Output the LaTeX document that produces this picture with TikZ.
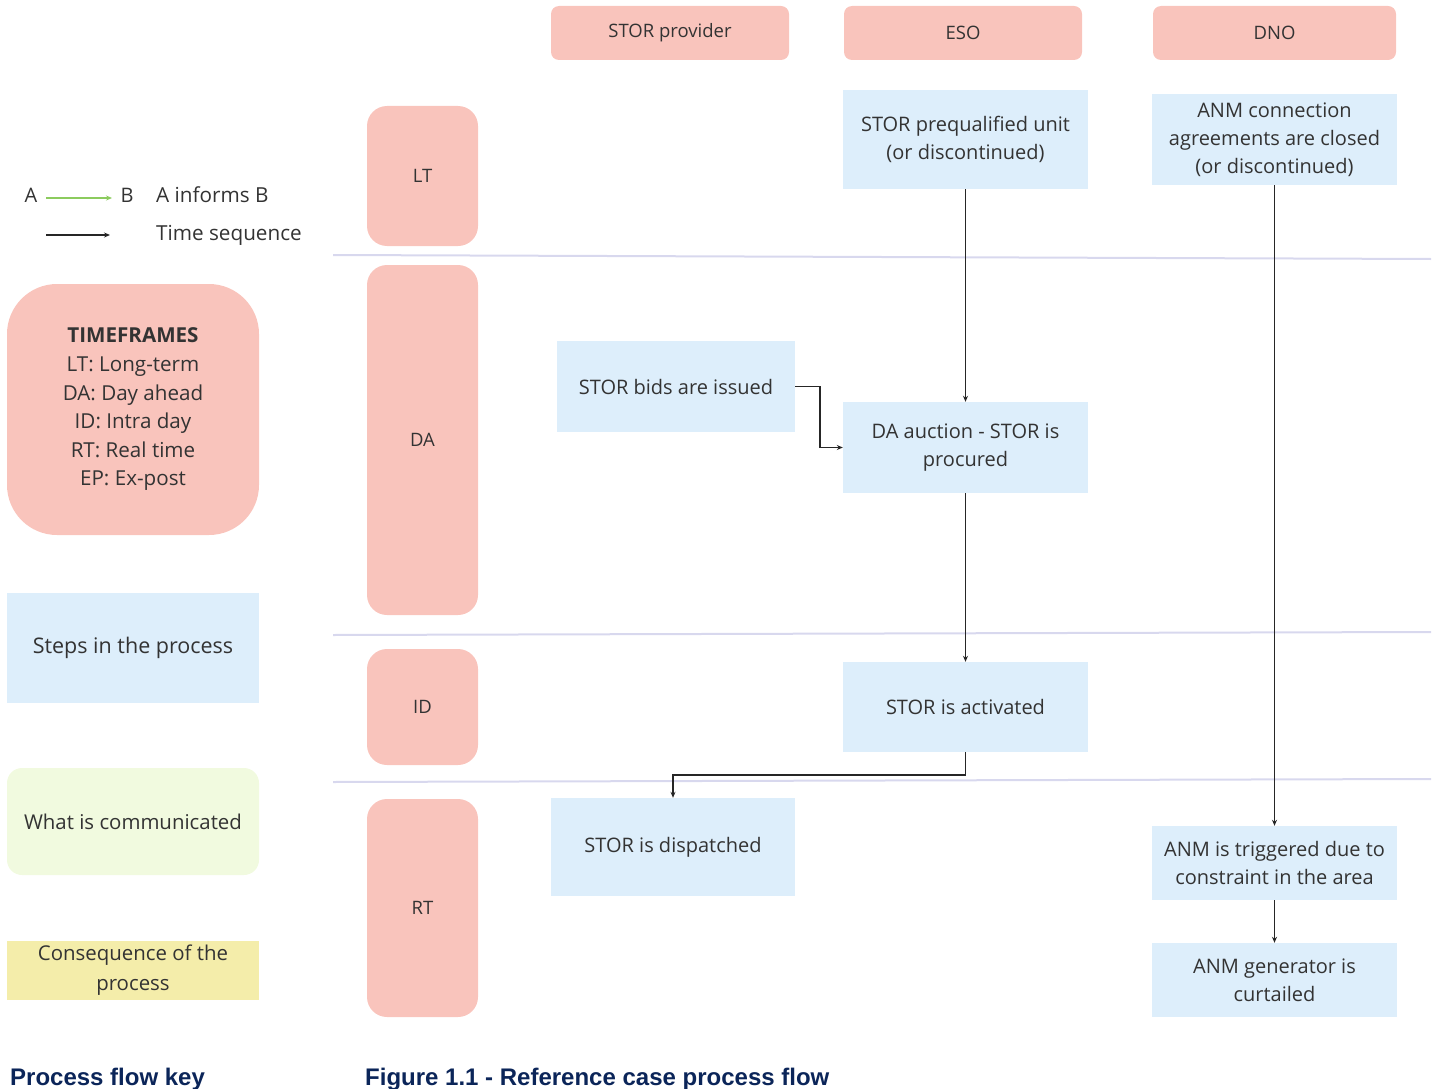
\documentclass[tikz,border=0pt]{standalone}
\usepackage{fontspec}
\setmainfont{Open Sans}
\newfontfamily\titlefont{Liberation Sans}
\usetikzlibrary{arrows.meta}
\definecolor{pinkf}{HTML}{F9C4BC}
\definecolor{bluef}{HTML}{DDEEFB}
\definecolor{greenf}{HTML}{F1FADF}
\definecolor{yellowf}{HTML}{F4EDAA}
\definecolor{sepc}{HTML}{D8D8EE}
\definecolor{infoc}{HTML}{8CCB5E}
\definecolor{navy}{HTML}{0B2559}
\definecolor{txt}{HTML}{333333}
\tikzset{
  every node/.style={text=txt, font=\fontsize{20}{28}\selectfont},
  header/.style={fill=pinkf, rounded corners=8pt, inner sep=0pt, font=\fontsize{18.5}{24}\selectfont},
  frame/.style={fill=pinkf, rounded corners=20pt, inner sep=0pt, font=\fontsize{18.5}{24}\selectfont},
  stepbox/.style={fill=bluef, inner sep=0pt, align=center},
  sep/.style={draw=sepc, line width=2pt},
  flow/.style={draw=black!85, line width=1.7pt, -{Stealth[length=6pt,width=5pt]}},
  inform/.style={draw=infoc, line width=1.8pt, -{Stealth[length=6pt,width=5pt]}},
  ttl/.style={text=navy, font=\titlefont\bfseries\fontsize{24}{28}\selectfont, anchor=base west, inner sep=0pt},
}
\begin{document}
\begin{tikzpicture}[x=1pt,y=-1pt]
\useasboundingbox (0,0) rectangle (1437,1089);
% separators
\draw[sep] (333,255) -- (1431,259);
\draw[sep] (333,635) -- (1431,632);
\draw[sep] (333,782) -- (1431,779);
% headers
\node[header, minimum width=238pt, minimum height=54pt] (hstor) at (670,33) {STOR provider};
\node[header, minimum width=238pt, minimum height=54pt] (heso) at (963,33) {ESO};
\node[header, minimum width=243pt, minimum height=54pt] (hdno) at (1274.5,33) {DNO};
% timeframes
\node[frame, minimum width=111pt, minimum height=140pt] (lt) at (422.5,176) {LT};
\node[frame, minimum width=111pt, minimum height=350pt] (da) at (422.5,440) {DA};
\node[frame, minimum width=111pt, minimum height=116pt] (id) at (422.5,707) {ID};
\node[frame, minimum width=111pt, minimum height=218pt] (rt) at (422.5,908) {RT};
% steps
\node[stepbox, minimum width=245pt, minimum height=99pt] (prequal) at (965.5,139.5) {STOR prequalified unit\\(or discontinued)};
\node[stepbox, minimum width=245pt, minimum height=91pt] (anmconn) at (1274.5,139.5) {ANM connection\\agreements are closed\\(or discontinued)};
\node[stepbox, minimum width=238pt, minimum height=91pt] (bids) at (676,386.5) {STOR bids are issued};
\node[stepbox, minimum width=245pt, minimum height=91pt] (auction) at (965.5,447.5) {DA auction - STOR is\\procured};
\node[stepbox, minimum width=245pt, minimum height=90pt] (activated) at (965.5,707) {STOR is activated};
\node[stepbox, minimum width=244pt, minimum height=98pt] (dispatched) at (673,847) {STOR is dispatched};
\node[stepbox, minimum width=245pt, minimum height=74pt] (triggered) at (1274.5,863) {ANM is triggered due to\\constraint in the area};
\node[stepbox, minimum width=245pt, minimum height=74pt] (curtailed) at (1274.5,980) {ANM generator is\\curtailed};
% flows
\draw[flow] (prequal.south) -- (auction.north);
\draw[flow] (auction.south) -- (activated.north);
\draw[flow] (bids.east) -- ++(25,0) |- (auction.west);
\draw[flow] (activated.south) -- ++(0,23) -| (dispatched.north);
\draw[flow] (anmconn.south) -- (triggered.north);
\draw[flow] (triggered.south) -- (curtailed.north);
% legend
\node (la) at (31,195) {A};
\node (lb) at (127,195) {B};
\node[anchor=west, inner sep=0pt, font=\fontsize{20.7}{28}\selectfont] (linf) at (156,195) {A informs B};
\node[anchor=west, inner sep=0pt, font=\fontsize{20.7}{28}\selectfont] (lts) at (156,235) {Time sequence};
\coordinate (ia) at (46,198);
\coordinate (ib) at (112,198);
\draw[inform] (ia) -- (ib);
\coordinate (ta) at (46,235);
\coordinate (tb) at (110,235);
\draw[flow, line width=1.3pt] (ta) -- (tb);
\node[fill=pinkf, rounded corners=50pt, minimum width=252pt, minimum height=251pt, inner sep=0pt, align=center, font=\fontsize{20.6}{28.6}\selectfont] (tf) at (133,409.5) {\textbf{TIMEFRAMES}\\LT: Long-term\\DA: Day ahead\\ID: Intra day\\RT: Real time\\EP: Ex-post};
\node[stepbox, minimum width=252pt, minimum height=110pt, font=\fontsize{21.5}{28}\selectfont] (ksteps) at (133,648) {Steps in the process};
\node[fill=greenf, rounded corners=15pt, minimum width=252pt, minimum height=107pt, inner sep=0pt, font=\fontsize{20.4}{28}\selectfont] (kcomm) at (133,821.5) {What is communicated};
\node[fill=yellowf, minimum width=252pt, minimum height=59pt, inner sep=0pt, align=center, font=\fontsize{20.4}{30}\selectfont] (kcons) at (133,970.5) {Consequence of the\\process};
% titles
\node[ttl] (t1) at (10,1085) {Process flow key};
\node[ttl] (t2) at (365,1085) {Figure 1.1 - Reference case process flow};
\end{tikzpicture}
\end{document}
